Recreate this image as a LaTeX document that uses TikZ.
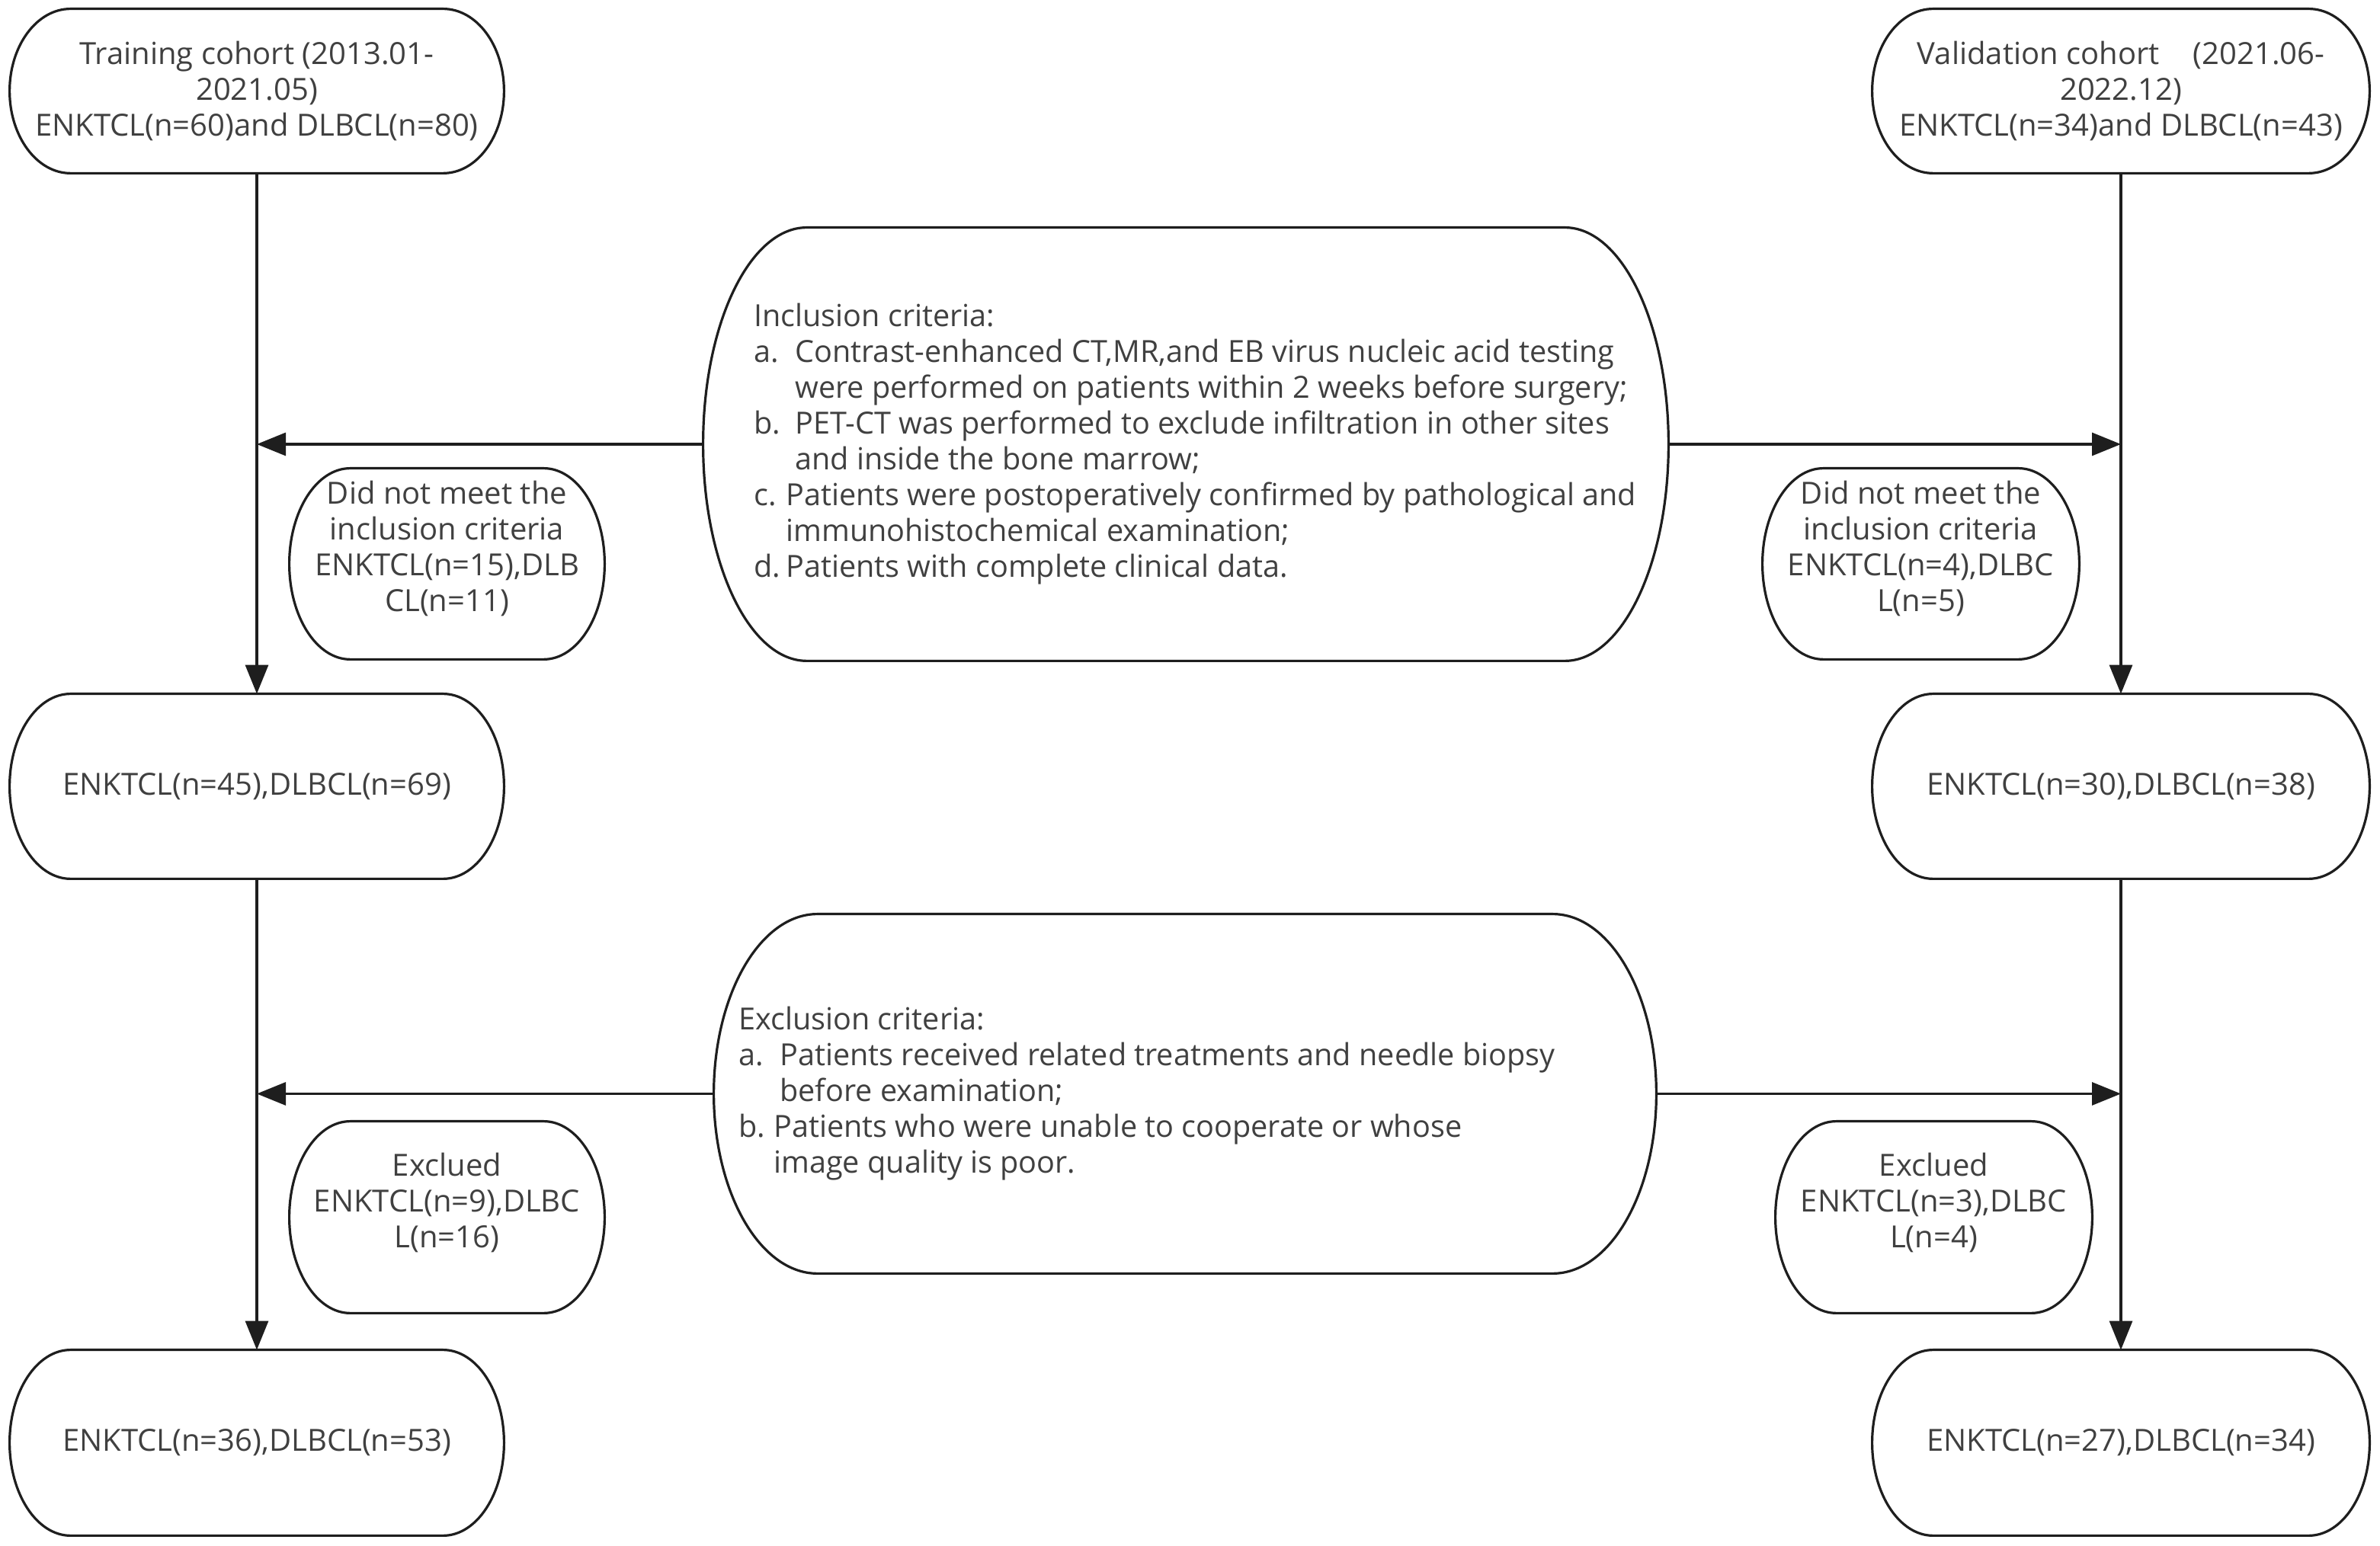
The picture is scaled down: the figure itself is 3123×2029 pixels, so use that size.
\documentclass[tikz,border=0pt]{standalone}
\usepackage{fontspec}
\setmainfont{Open Sans}
\newfontfamily\critfont[FakeStretch=0.99]{Open Sans}
\usetikzlibrary{arrows.meta,calc}
\definecolor{txt}{HTML}{404040}
\definecolor{ln}{HTML}{1E1E1E}
\tikzset{
  boxline/.style={draw=ln, line width=1.6pt, line join=round},
  box/.style={shape=rectangle, inner sep=0pt, draw=none, text=txt, align=center,
              font=\fontsize{20}{23.5}\selectfont},
  lbl/.style={shape=rectangle, inner sep=0pt, text=txt, align=center,
              font=\fontsize{20}{23.5}\selectfont},
  crit/.style={shape=rectangle, inner sep=0pt, text=txt, align=left,
              font=\critfont\fontsize{20}{23.5}\selectfont},
  arr/.style={draw=ln, line width=1.6pt, -{Triangle[length=19pt,width=15pt]}},
}
\newcommand{\capsule}[2]{%
  \draw[boxline] let \p1=(#1.north west), \p2=(#1.south east) in
    (\x1+#2,\y1) -- (\x2-#2,\y1)
    arc[start angle=90, end angle=-90, x radius=#2, y radius={(\y1-\y2)/2}]
    -- (\x1+#2,\y2)
    arc[start angle=270, end angle=90, x radius=#2, y radius={(\y1-\y2)/2}]
    -- cycle;}
\begin{document}
\begin{tikzpicture}[x=0.5pt,y=0.5pt]
\fill[white] (0,0) rectangle (3123,2029);
\useasboundingbox (0,0) rectangle (3123,2029);

% cohort column boxes
\node[box, minimum width=648pt*0.5, minimum height=215pt*0.5] (tl) at (337,1909.5)
  {Training cohort (2013.01-\\2021.05)\\ENKTCL(n=60)and DLBCL(n=80)};
\node[box, minimum width=652pt*0.5, minimum height=215pt*0.5] (tr) at (2783,1909.5)
  {Validation cohort\hspace{1.1em}(2021.06-\\2022.12)\\ENKTCL(n=34)and DLBCL(n=43)};
\node[box, minimum width=648pt*0.5, minimum height=242pt*0.5] (ml) at (337,997)
  {ENKTCL(n=45),DLBCL(n=69)};
\node[box, minimum width=652pt*0.5, minimum height=242pt*0.5] (mr) at (2783,997)
  {ENKTCL(n=30),DLBCL(n=38)};
\node[box, minimum width=648pt*0.5, minimum height=243pt*0.5] (bl) at (337,135.5)
  {ENKTCL(n=36),DLBCL(n=53)};
\node[box, minimum width=652pt*0.5, minimum height=243pt*0.5] (br) at (2783,135.5)
  {ENKTCL(n=27),DLBCL(n=34)};

% criteria boxes
\node[box, minimum width=1266pt*0.5, minimum height=568pt*0.5] (inc) at (1556,1446) {};
\node[box, minimum width=1236pt*0.5, minimum height=471pt*0.5] (exc) at (1555,593.5) {};

% side boxes
\node[box, minimum width=413pt*0.5, minimum height=250pt*0.5] (dnmL) at (586.5,1289) {};
\node[box, minimum width=415pt*0.5, minimum height=250pt*0.5] (dnmR) at (2520.5,1289) {};
\node[box, minimum width=413pt*0.5, minimum height=251pt*0.5] (excL) at (586.5,431.5) {};
\node[box, minimum width=415pt*0.5, minimum height=251pt*0.5] (excR) at (2537.5,431.5) {};

\capsule{tl}{40pt}
\capsule{tr}{40pt}
\capsule{ml}{40pt}
\capsule{mr}{40pt}
\capsule{bl}{40pt}
\capsule{br}{40pt}
\capsule{inc}{68pt}
\capsule{exc}{68pt}
\capsule{dnmL}{40pt}
\capsule{dnmR}{40pt}
\capsule{excL}{40pt}
\capsule{excR}{40pt}

% texts
\node[lbl] (dnmLt) at (586.5,1309) {Did not meet the\\inclusion criteria\\ENKTCL(n=15),DLB\\CL(n=11)};
\node[lbl] (dnmRt) at (2520.5,1309) {Did not meet the\\inclusion criteria\\ENKTCL(n=4),DLBC\\L(n=5)};
\node[lbl] (excLt) at (586.5,451) {Exclued\\ENKTCL(n=9),DLBC\\L(n=16)};
\node[lbl] (excRt) at (2537.5,451) {Exclued\\ENKTCL(n=3),DLBC\\L(n=4)};

\node[crit, anchor=west] (inct) at (989,1446) {Inclusion criteria:\\
\makebox[27pt][l]{a.}Contrast-enhanced CT,MR,and EB virus nucleic acid testing\\
\hspace*{27pt}were performed on patients within 2 weeks before surgery;\\
\makebox[27pt][l]{b.}PET-CT was performed to exclude infiltration in other sites\\
\hspace*{27pt}and inside the bone marrow;\\
\makebox[21pt][l]{c.}Patients were postoperatively confirmed by pathological and\\
\hspace*{21pt}immunohistochemical examination;\\
\makebox[21pt][l]{d.}Patients with complete clinical data.};

\node[crit, anchor=west] (exct) at (969,593.5) {Exclusion criteria:\\
\makebox[27pt][l]{a.}Patients received related treatments and needle biopsy\\
\hspace*{27pt}before examination;\\
\makebox[23pt][l]{b.}Patients who were unable to cooperate or whose\\
\hspace*{23pt}image quality is poor.};

% connectors
\draw[arr] (tl.south) -- (ml.north);
\draw[arr] (ml.south) -- (bl.north);
\draw[arr] (tr.south) -- (mr.north);
\draw[arr] (mr.south) -- (br.north);
\draw[arr] (inc.west) -- (inc.west -| tl.south);
\draw[arr] (inc.east) -- (inc.east -| tr.south);
\draw[arr] (exc.west) -- (exc.west -| ml.south);
\draw[arr] (exc.east) -- (exc.east -| mr.south);
\end{tikzpicture}
\end{document}
